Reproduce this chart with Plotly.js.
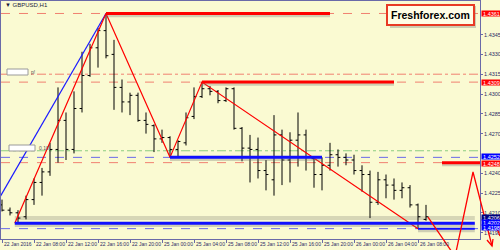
<!DOCTYPE html>
<html><head><meta charset="utf-8">
<script src="https://cdn.plot.ly/plotly-3.0.1.min.js"></script>
<style>html,body{margin:0;padding:0;background:#FAFAD2}#chart{width:500px;height:250px}</style>
</head><body><div id="chart"></div>
<script>
// Bar index (0 = 22 Jan 04:00, H1 bars, weekend skipped)
const barIndex = [0,1,2,3,4,5,6,7,8,9,10,11,12,13,14,15,16,17,18,19,20,21,22,23,24,25,26,27,28,29,30,31,32,33,34,35,36,37,38,39,40,41,42,43,44,45,46,47,48,49,50,51,52,53];
const openP  = [1.4216,1.4212,1.4210,1.4207,1.4220,1.4233,1.4241,1.4258,1.4280,1.4258,1.4289,1.4314,1.4335,1.4348,1.4330,1.4305,1.4294,1.4299,1.4280,1.4276,1.4266,1.4267,1.4258,1.4263,1.4283,1.4298,1.4304,1.4302,1.4295,1.4304,1.4274,1.4259,1.4258,1.4242,1.4235,1.4269,1.4250,1.4265,1.4269,1.4251,1.4239,1.4246,1.4254,1.4252,1.4250,1.4242,1.4239,1.4218,1.4235,1.4231,1.4227,1.4229,1.4216,1.4205];
const highP  = [1.4220,1.4214,1.4212,1.4223,1.4236,1.4244,1.4263,1.4305,1.4286,1.4302,1.4332,1.4338,1.4350,1.4361,1.4341,1.4311,1.4301,1.4301,1.4286,1.4277,1.4273,1.4268,1.4265,1.4286,1.4305,1.4309,1.4306,1.4303,1.4305,1.4305,1.4275,1.4269,1.4267,1.4250,1.4284,1.4273,1.4271,1.4286,1.4273,1.4252,1.4252,1.4263,1.4258,1.4255,1.4254,1.4246,1.4242,1.4241,1.4239,1.4236,1.4233,1.4231,1.4217,1.4216];
const lowP   = [1.4211,1.4208,1.4202,1.4205,1.4216,1.4223,1.4238,1.4248,1.4250,1.4255,1.4286,1.4313,1.4320,1.4327,1.4288,1.4286,1.4284,1.4279,1.4270,1.4256,1.4263,1.4252,1.4253,1.4261,1.4281,1.4297,1.4299,1.4293,1.4294,1.4273,1.4249,1.4233,1.4236,1.4227,1.4223,1.4231,1.4233,1.4245,1.4242,1.4229,1.4227,1.4242,1.4245,1.4246,1.4239,1.4226,1.4206,1.4216,1.4221,1.4220,1.4221,1.4214,1.4198,1.4204];
const closeP = [1.4212,1.4210,1.4206,1.4220,1.4233,1.4241,1.4258,1.4280,1.4258,1.4289,1.4314,1.4335,1.4348,1.4329,1.4305,1.4294,1.4299,1.4280,1.4277,1.4266,1.4267,1.4258,1.4264,1.4282,1.4298,1.4304,1.4302,1.4295,1.4304,1.4274,1.4259,1.4258,1.4242,1.4239,1.4269,1.4250,1.4265,1.4269,1.4252,1.4239,1.4246,1.4254,1.4252,1.4250,1.4242,1.4239,1.4218,1.4235,1.4231,1.4227,1.4229,1.4216,1.4207,1.4207];

const xTickIdx  = [0,4,8,12,16,20,24,28,32,36,40,44,48,52];
const xTickText = ['22 Jan 2016','22 Jan 08:00','22 Jan 12:00','22 Jan 16:00','22 Jan 20:00','25 Jan 00:00','25 Jan 04:00','25 Jan 08:00','25 Jan 12:00','25 Jan 16:00','25 Jan 20:00','26 Jan 00:00','26 Jan 04:00','26 Jan 08:00'];
const yTickVals = [1.4195, 1.4210, 1.4225, 1.4240, 1.4270, 1.4285, 1.4300, 1.4315, 1.4330, 1.4345];

const blueTrendX = [-0.25, 13];
const blueTrendY = [1.4222, 1.4361];
const redTrendX  = [1.6, 13, 21, 25, 52];
const redTrendY  = [1.4202, 1.4361, 1.4252, 1.4309, 1.4198];

// full-width level lines
const levelPrices = [1.4361, 1.4315, 1.4309, 1.4257, 1.4252, 1.4248, 1.4198];
const levelKinds  = ['redDash','redDashDot','redDash','greenDashDot','blueDash','redDash','blueDash'];
// thick segments
const segPrice = [1.4361, 1.4309, 1.4252, 1.4248, 1.4202, 1.4198];
const segFrom  = [13, 25, 21, 55, 1.6, 52];
const segTo    = [41, 49, 40, 59.75, 59.1, 59.1];
const segKind  = ['red','red','blue','red','blue','blue'];
// highlighted price labels on the axis
const markPrices = [1.4361, 1.4309, 1.4252, 1.4248, 1.4206, 1.4202, 1.4198];
const markKinds  = ['red','red','blue','red','navy','blue','blue'];

const PX = px => (px - 1) / 479;
const PY = py => (239 - py) / 238;
const axisCol = '#6a6aa8';
const txtCol = '#2b2b66';
const fnt = 'Liberation Sans Narrow, Arial Narrow, Liberation Sans, Arial, sans-serif';

const traces = [
  {type:'ohlc', x:barIndex, open:openP, high:highP, low:lowP, close:closeP,
   increasing:{line:{color:'#000000', width:1}}, decreasing:{line:{color:'#000000', width:1}},
   tickwidth:0.3, hoverinfo:'skip', showlegend:false},
  {type:'scatter', mode:'lines', x:blueTrendX, y:blueTrendY, line:{color:'#1a1aff', width:1.2}, hoverinfo:'skip', showlegend:false},
  {type:'scatter', mode:'lines', x:redTrendX, y:redTrendY, line:{color:'#ff0000', width:1.2}, hoverinfo:'skip', showlegend:false}
];

const kindStyle = {
  redDash:{color:'#f08070', dash:'dash', width:1},
  redDashDot:{color:'#f08070', dash:'dashdot', width:1},
  greenDashDot:{color:'#8ccc80', dash:'dashdot', width:1},
  blueDash:{color:'#6a6ae8', dash:'dash', width:1}
};
const shapes = [];
shapes.push({type:'line', xref:'x', yref:'y', x0:1.6, x1:59.1, y0:markPrices[4], y1:markPrices[4], line:{color:'rgba(160,160,140,0.4)', width:4}, layer:'below'});
levelPrices.forEach((p,i)=>{
  shapes.push({type:'line', xref:'paper', yref:'y', x0:0, x1:1, y0:p, y1:p, line:kindStyle[levelKinds[i]], layer:'below'});
});
segPrice.forEach((p,i)=>{
  shapes.push({type:'line', xref:'x', yref:'y', x0:segFrom[i], x1:segTo[i], y0:p-0.00013, y1:p-0.00013, line:{color:'rgba(110,110,110,0.3)', width:4}, layer:'above'});
  shapes.push({type:'line', xref:'x', yref:'y', x0:segFrom[i], x1:segTo[i], y0:p, y1:p, line:{color: segKind[i]==='red' ? '#ff0000' : '#1010ff', width: i===5 ? 2 : 3}, layer:'above'});
});
// projected path at the right
const pth = pts => pts.map((q,k)=>(k? 'L ':'M ')+PX(q[0]).toFixed(4)+' '+PY(q[1]).toFixed(4)).join(' ');
shapes.push({type:'path', xref:'paper', yref:'paper', path:pth([[428,217],[452,252]]), line:{color:'#ff0000', width:1.3}, layer:'above'});
shapes.push({type:'path', xref:'paper', yref:'paper', path:pth([[456,252],[473,172],[492,246]]), line:{color:'#ff0000', width:1.3}, layer:'above'});
shapes.push({type:'path', xref:'paper', yref:'paper', path:pth([[487,240],[492,246],[493,239]]), line:{color:'#ff0000', width:1.3}, layer:'above'});
shapes.push({type:'path', xref:'paper', yref:'paper', path:pth([[496,226],[500,236]]), line:{color:'#ff0000', width:1.3}, layer:'above'});
// small object labels at left
shapes.push({type:'rect', xref:'paper', yref:'paper', x0:PX(7), x1:PX(28), y0:PY(75), y1:PY(69), fillcolor:'#ffffff', line:{color:'#9a9a9a', width:1}, layer:'above'});
shapes.push({type:'rect', xref:'paper', yref:'paper', x0:PX(9), x1:PX(35), y0:PY(151), y1:PY(145), fillcolor:'#ffffff', line:{color:'#9a9a9a', width:1}, layer:'above'});
// shadow of logo box
shapes.push({type:'rect', xref:'paper', yref:'paper', x0:PX(390), x1:PX(476), y0:PY(28), y1:PY(6), fillcolor:'rgba(120,120,120,0.35)', line:{width:0}, layer:'above'});

const markBg = {red:'#ff0000', blue:'#0000ff', navy:'#000080'};
const markShift = [0, 0, 1, -1, 1, 1, 1];
const annotations = markPrices.map((p,i)=>({
  xref:'paper', yref:'y', x:1, y:p, xanchor:'left', yanchor:'middle', xshift:1, yshift:markShift[i],
  text:p.toFixed(4), showarrow:false, bgcolor:markBg[markKinds[i]], borderpad:0, width:19, height:5,
  font:{family:fnt, size:5.5, color:'#ffffff'}
}));
// x-axis labels, left-aligned at their tick like the terminal does
xTickIdx.forEach((v,i)=>{
  annotations.push({xref:'x', yref:'paper', x:v, y:0, xanchor:'left', yanchor:'top', yshift:-1, xshift:1,
    text:xTickText[i], showarrow:false, borderpad:0, font:{family:fnt, size:5, color:txtCol}});
});
annotations.push({xref:'paper', yref:'paper', x:PX(3), y:PY(5), xanchor:'left', yanchor:'middle', text:'▼ GBPUSD,H1', showarrow:false, font:{family:fnt, size:6, color:'#1a1a40'}});
annotations.push({xref:'paper', yref:'paper', x:PX(430), y:PY(15), xanchor:'center', yanchor:'middle', text:'<b>Freshforex.com</b>', showarrow:false,
  bgcolor:'#fffde6', bordercolor:'#e83a24', borderwidth:2, borderpad:3, font:{family:'Liberation Sans, Arial, sans-serif', size:10.5, color:'#000000'}});
annotations.push({xref:'paper', yref:'paper', x:PX(37), y:PY(148), xanchor:'left', yanchor:'middle', text:'0.10', showarrow:false, font:{family:fnt, size:5, color:'#555555'}});
annotations.push({xref:'paper', yref:'paper', x:PX(29), y:PY(72), xanchor:'left', yanchor:'middle', text:'p!', showarrow:false, font:{family:fnt, size:5, color:'#555555'}});

const layout = {
  width:500, height:250, margin:{l:1, r:20, t:1, b:11},
  paper_bgcolor:'#FAFAD2', plot_bgcolor:'#FAFAD2', showlegend:false,
  xaxis:{range:[-0.125, 59.75], tickvals:xTickIdx, showticklabels:false, ticks:'outside', ticklen:3, tickcolor:axisCol,
    showgrid:false, zeroline:false, showline:true, linecolor:axisCol, linewidth:1, mirror:true,
    rangeslider:{visible:false}, fixedrange:true},
  yaxis:{side:'right', range:[1.419015, 1.437045], tickvals:yTickVals, tickformat:'.4f', ticks:'outside', ticklen:2, tickcolor:axisCol,
    tickfont:{family:fnt, size:5.5, color:txtCol}, showgrid:false, zeroline:false, showline:true, linecolor:axisCol, linewidth:1, mirror:true, fixedrange:true},
  shapes:shapes, annotations:annotations
};
Plotly.newPlot('chart', traces, layout, {staticPlot:true, displayModeBar:false});
</script></body></html>
